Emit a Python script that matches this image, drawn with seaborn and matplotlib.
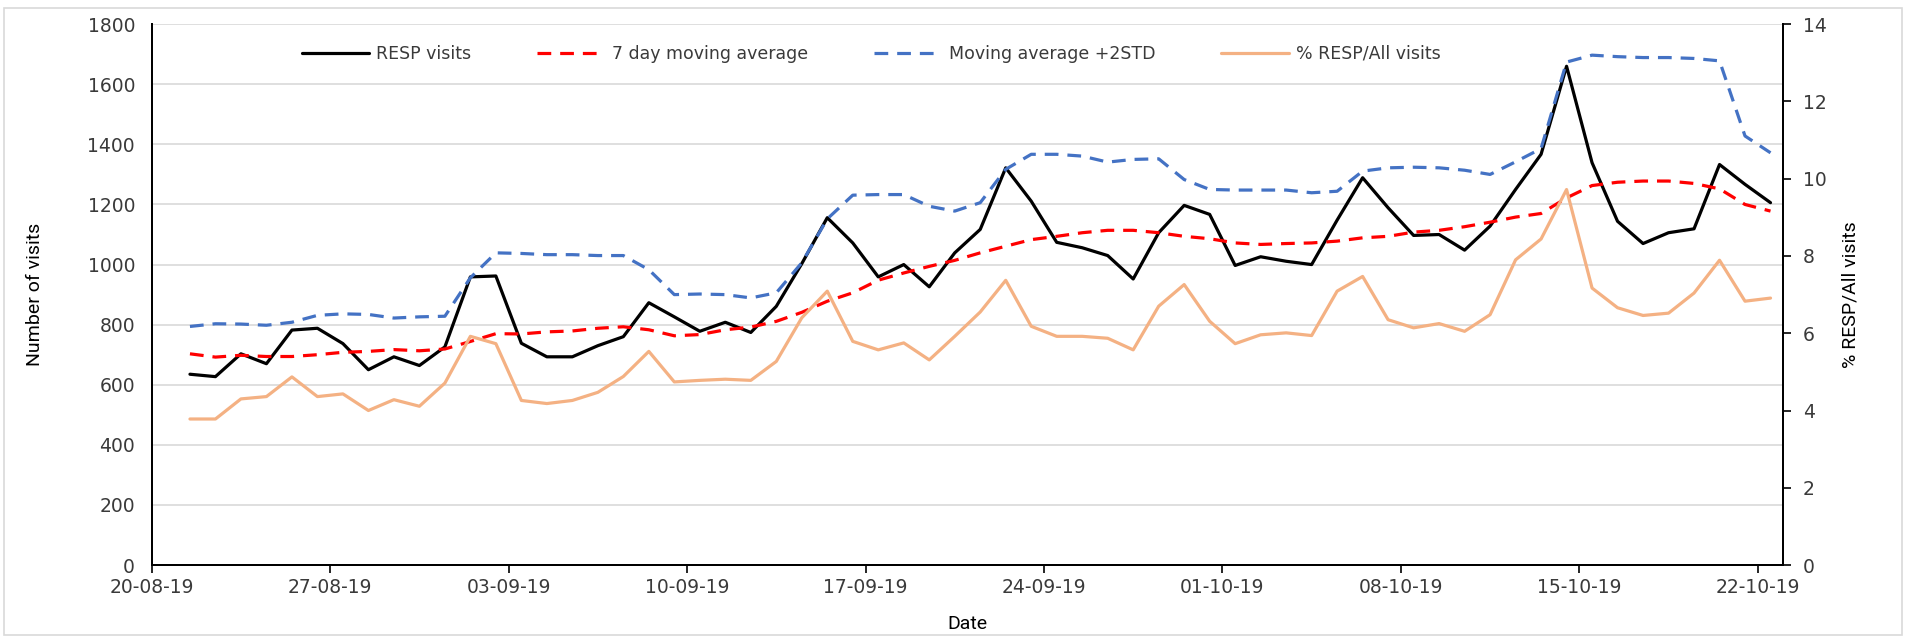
import pandas as pd
import matplotlib
matplotlib.use('Agg')
import matplotlib.pyplot as plt
import matplotlib.dates as mdates
from matplotlib.patches import Rectangle
import seaborn as sns

# --- data (one value per day, 21-08-19 .. 22-10-19) ---
dates = pd.date_range('2019-08-21', '2019-10-22', freq='D')

resp_visits = [635, 627, 703, 670, 782, 788, 737, 650, 693, 664,
               726, 959, 962, 738, 693, 693, 730, 760, 873, 826,
               778, 808, 774, 861, 1003, 1156, 1072, 959, 1000, 926,
               1039, 1117, 1322, 1211, 1074, 1056, 1030, 952, 1106, 1197,
               1167, 997, 1026, 1011, 1000, 1148, 1289, 1189, 1097, 1100,
               1048, 1128, 1250, 1367, 1660, 1339, 1144, 1070, 1106, 1119,
               1333, 1267, 1206]

moving_avg_7d = [703, 692, 698, 694, 694, 700, 708, 711, 717, 713,
                 719, 744, 770, 769, 776, 779, 788, 793, 783, 763,
                 767, 783, 792, 811, 841, 878, 906, 948, 972, 994,
                 1014, 1039, 1061, 1083, 1094, 1106, 1114, 1114, 1106, 1094,
                 1086, 1072, 1067, 1070, 1072, 1078, 1089, 1094, 1108, 1114,
                 1126, 1141, 1158, 1170, 1222, 1263, 1274, 1278, 1278, 1270,
                 1252, 1200, 1178]

moving_avg_2std = [794, 803, 802, 798, 808, 831, 836, 834, 822, 826,
                   828, 956, 1039, 1037, 1033, 1033, 1030, 1030, 983, 900,
                   902, 900, 889, 906, 1006, 1152, 1231, 1233, 1233, 1194,
                   1178, 1206, 1317, 1367, 1367, 1361, 1341, 1350, 1352, 1283,
                   1250, 1248, 1248, 1248, 1239, 1244, 1311, 1322, 1324, 1322,
                   1314, 1300, 1342, 1386, 1674, 1697, 1692, 1689, 1689, 1686,
                   1678, 1428, 1372]

pct_resp_all = [3.78, 3.78, 4.30, 4.36, 4.87, 4.36, 4.43, 4.00, 4.28, 4.11,
                4.71, 5.92, 5.73, 4.26, 4.18, 4.26, 4.47, 4.88, 5.53, 4.74,
                4.78, 4.81, 4.78, 5.27, 6.40, 7.09, 5.79, 5.57, 5.75, 5.31,
                5.92, 6.55, 7.37, 6.18, 5.92, 5.92, 5.87, 5.57, 6.70, 7.26,
                6.31, 5.73, 5.96, 6.01, 5.94, 7.09, 7.47, 6.35, 6.14, 6.25,
                6.05, 6.48, 7.90, 8.44, 9.72, 7.17, 6.66, 6.46, 6.52, 7.04,
                7.89, 6.83, 6.91]

week_ticks = pd.date_range('2019-08-20', '2019-10-22', freq='7D')


def main():
    df = pd.DataFrame({
        'date': dates,
        'resp': resp_visits,
        'ma7': moving_avg_7d,
        'ma2std': moving_avg_2std,
        'pct': pct_resp_all,
    })
    # Excel date axis puts each point in the middle of its day
    df['x'] = df['date'] + pd.Timedelta(hours=12)

    sns.set_style('white')
    plt.rcParams['font.family'] = ['DejaVu Sans']
    text_col = '#3a3a3a'
    grid_col = '#d9d9d9'
    label_font = ['Roboto', 'DejaVu Sans']

    fig = plt.figure(figsize=(19.06, 6.37), dpi=100)
    ax = fig.add_axes([0.0796, 0.113, 0.856, 0.849])
    ax2 = ax.twinx()

    sns.lineplot(data=df, x='x', y='resp', ax=ax, color='black', lw=2.3,
                 label='RESP visits', legend=False)
    sns.lineplot(data=df, x='x', y='ma7', ax=ax, color='#ff0000', lw=2.3,
                 linestyle=(0, (4.3, 2.8)), label='7 day moving average', legend=False)
    sns.lineplot(data=df, x='x', y='ma2std', ax=ax, color='#4472c4', lw=2.3,
                 linestyle=(0, (4.3, 2.8)), label='Moving average +2STD', legend=False)
    sns.lineplot(data=df, x='x', y='pct', ax=ax2, color='#f4b183', lw=2.3,
                 label='% RESP/All visits', legend=False)

    # left axis
    ax.set_ylim(0, 1800)
    ax.set_yticks(range(0, 1801, 200))
    ax.yaxis.grid(True, color=grid_col, lw=1.2)
    ax.xaxis.grid(False)
    ax.set_axisbelow(True)
    ax.set_ylabel('Number of visits', fontsize=14, color='black', family=label_font)
    ax.yaxis.set_label_coords(-0.066, 0.5)
    ax.set_xlabel('Date', fontsize=14, color='black', family=label_font)
    ax.xaxis.set_label_coords(0.5, -0.092)

    # x axis
    ax.set_xlim(pd.Timestamp('2019-08-20'), pd.Timestamp('2019-10-23'))
    ax.set_xticks(week_ticks)
    ax.xaxis.set_major_formatter(mdates.DateFormatter('%d-%m-%y'))
    ax.tick_params(axis='x', direction='out', length=6, width=1.2, color='black',
                   labelsize=13.5, labelcolor=text_col, pad=3, bottom=True)
    ax.tick_params(axis='y', length=0, labelsize=13.5, labelcolor=text_col, pad=12)

    # right axis
    ax2.set_ylim(0, 14)
    ax2.set_yticks(range(0, 15, 2))
    ax2.grid(False)
    ax2.set_ylabel('% RESP/All visits', fontsize=14, color='black', family=label_font)
    ax2.yaxis.set_label_coords(1.036, 0.5)
    ax2.tick_params(axis='y', direction='out', length=6, width=1.2, color='black',
                    labelsize=13.5, labelcolor=text_col, pad=8, right=True)

    for a in (ax, ax2):
        a.spines['top'].set_visible(False)
        for s in ('left', 'bottom', 'right'):
            a.spines[s].set_color('black')
            a.spines[s].set_linewidth(1.4)

    # legend across the top of the plot
    h1, l1 = ax.get_legend_handles_labels()
    h2, l2 = ax2.get_legend_handles_labels()
    ax.legend(h1 + h2, l1 + l2, loc='center', bbox_to_anchor=(0.441, 0.945),
              ncol=4, frameon=False, fontsize=12.5, handlelength=3.9,
              columnspacing=3.8, handletextpad=0.4, labelcolor=text_col)

    # light chart-area border like the Excel export
    fig.patches.append(Rectangle((0.002, 0.003), 0.996, 0.984, transform=fig.transFigure,
                                 fill=False, edgecolor='#d9d9d9', lw=1.2))

    fig.savefig('out.png', dpi=100)


if __name__ == '__main__':
    main()
